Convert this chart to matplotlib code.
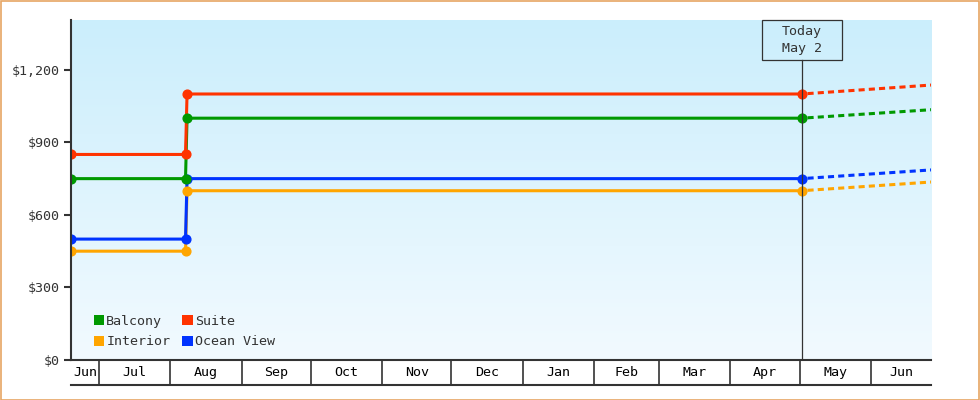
import numpy as np
import matplotlib
matplotlib.use("Agg")
import matplotlib.pyplot as plt
import matplotlib.dates as mdates
from matplotlib.patches import Patch, Rectangle
from matplotlib.colors import LinearSegmentedColormap
import datetime as dt

# ---------------- data ----------------
series_names = ["Interior", "Ocean View", "Balcony", "Suite"]
series_colors = ["#ffa500", "#0033ff", "#009900", "#ff3300"]
old_prices = [450, 500, 750, 850]
new_prices = [700, 750, 1000, 1100]
forecast_end = [736, 786, 1035, 1137]

start_date = dt.datetime(2024, 6, 19)
change_old_date = dt.datetime(2024, 8, 7, 16)
change_new_date = dt.datetime(2024, 8, 8, 8)
today_date = dt.datetime(2025, 5, 2)
end_date = dt.datetime(2025, 6, 27)

legend_order = ["Balcony", "Interior", "Suite", "Ocean View"]
y_ticks = [0, 300, 600, 900, 1200]
y_max = 1406
month_starts = [dt.datetime(2024, m, 1) for m in range(6, 13)] + \
               [dt.datetime(2025, m, 1) for m in range(1, 8)]
today_label = "Today\nMay 2"

# ---------------- style ----------------
FONT = "DejaVu Sans Mono"
FS = 9.6
DARK = "#333333"
W, H = 980, 400
L, R, T, B = 71, 931, 20, 360

fig = plt.figure(figsize=(W / 100, H / 100), dpi=100)
fig.patch.set_facecolor("white")
fig.patches.append(Rectangle((0.5 / W, 0.5 / H), 1 - 1.5 / W, 1 - 1.5 / H,
                             transform=fig.transFigure, fill=False,
                             edgecolor="#e6a664", linewidth=1.2))

ax = fig.add_axes([L / W, (H - B) / H, (R - L) / W, (B - T) / H])
x0, x1 = mdates.date2num(start_date), mdates.date2num(end_date)

# gradient background (darker blue at top)
grad = np.linspace(0, 1, 256).reshape(-1, 1)
cmap = LinearSegmentedColormap.from_list("bg", ["#cbeefc", "#f2faff"])
ax.imshow(grad, extent=[0, 1, 0, 1], origin="upper", transform=ax.transAxes,
          aspect="auto", cmap=cmap, zorder=0, interpolation="bicubic")

lw = 2.2
for name, c, o, n, f in zip(series_names, series_colors, old_prices, new_prices, forecast_end):
    xs = [start_date, change_old_date, change_new_date, today_date]
    ys = [o, o, n, n]
    ax.plot(xs, ys, color=c, lw=lw, zorder=3, solid_capstyle="butt")
    ax.plot(xs, ys, linestyle="none", marker="o", ms=6.3, color=c, zorder=4)
    ax.plot([today_date, end_date], [n, f], color=c, lw=lw,
            linestyle=(1.5, (2.0, 1.35)), zorder=3, dash_capstyle="butt")

ax.set_xlim(x0, x1)
ax.set_ylim(0, y_max)

# spines & y ticks
for s in ["top", "right"]:
    ax.spines[s].set_visible(False)
for s in ["left", "bottom"]:
    ax.spines[s].set_color(DARK)
    ax.spines[s].set_linewidth(1.5)
    ax.spines[s].set_zorder(5)
ax.set_yticks(y_ticks)
ax.set_yticklabels(["$" + format(v, ",") for v in y_ticks], fontfamily=FONT, fontsize=FS, color=DARK)
ax.tick_params(axis="y", length=5, width=1.5, color=DARK, pad=3)
ax.set_xticks([])

# month boxes under axis
xtr = ax.get_xaxis_transform()
row_h = 25 / (B - T)
inner = [mdates.date2num(m) for m in month_starts if x0 < mdates.date2num(m) < x1]
for xm in inner:
    ax.plot([xm, xm], [0, -row_h], transform=xtr, color=DARK, lw=1.2,
            clip_on=False, zorder=5)
ax.plot([0, 1], [-row_h, -row_h], transform=ax.transAxes, color=DARK, lw=1.5,
        clip_on=False, zorder=5)
bounds = [x0] + inner + [x1]
for a, b in zip(bounds[:-1], bounds[1:]):
    label = mdates.num2date(a + 0.5).strftime("%b")
    ax.text((a + b) / 2, -row_h / 2, label, transform=xtr, ha="center", va="center",
            fontfamily=FONT, fontsize=FS, color="black", clip_on=False)

# today marker
xt = mdates.date2num(today_date)
days_per_px = (x1 - x0) / (R - L)
box_h = 40 / (B - T)
ax.plot([xt, xt], [0, 1 - box_h], transform=xtr, color=DARK, lw=0.9, zorder=5)
ax.add_patch(Rectangle((xt - 40 * days_per_px, 1 - box_h), 80 * days_per_px, box_h,
                       transform=xtr, facecolor="none", edgecolor=DARK, lw=0.9,
                       zorder=5, clip_on=False))
ax.text(xt, 1 - box_h / 2, today_label, transform=xtr, ha="center", va="center",
        fontfamily=FONT, fontsize=FS, color=DARK, linespacing=1.35, zorder=6)

# legend
cdict = dict(zip(series_names, series_colors))
handles = [Patch(facecolor=cdict[n], edgecolor="none", label=n) for n in legend_order]
leg = ax.legend(handles=handles, ncol=2, loc="lower left", bbox_to_anchor=(0.017, 0.011),
                frameon=False, prop={"family": FONT, "size": FS},
                handlelength=0.8, handleheight=0.8, handletextpad=0.15,
                columnspacing=0.9, labelspacing=0.55, borderaxespad=0.2)
for t in leg.get_texts():
    t.set_color(DARK)

fig.savefig("out.png", dpi=100)
